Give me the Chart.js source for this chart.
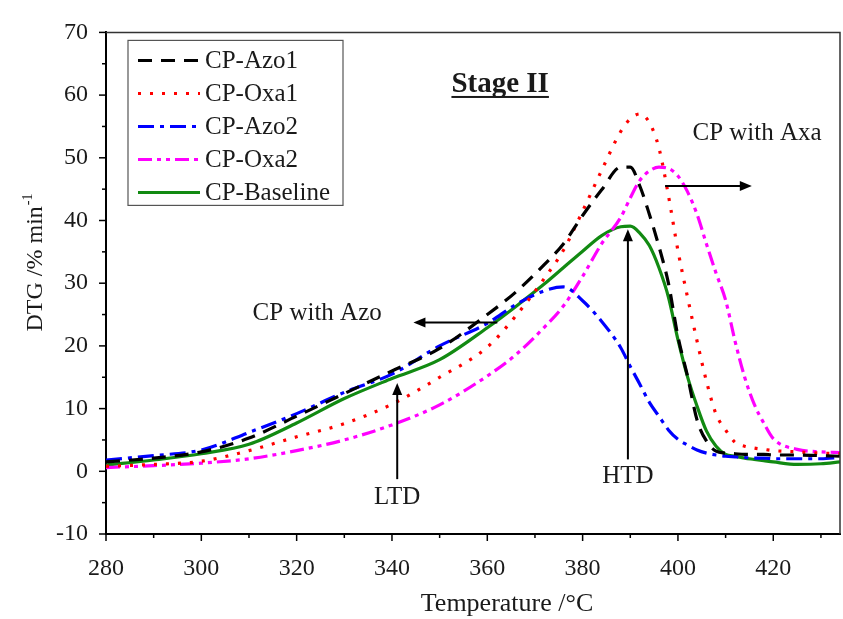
<!DOCTYPE html>
<html>
<head>
<meta charset="utf-8">
<script src="https://cdn.jsdelivr.net/npm/chart.js@4.4.0/dist/chart.umd.min.js"></script>
<style>
  html, body { margin: 0; padding: 0; background: #fff; }
</style>
</head>
<body>
<canvas id="myChart" width="843" height="619"></canvas>
<script>
'use strict';
// ******* Data *******
let temps = [280, 290, 300, 310, 320, 330, 340, 350, 360, 366, 372, 376, 380, 384, 388, 390, 392, 394, 396, 398,
  400, 402, 404, 406, 408, 410, 412, 414, 416, 418, 420, 425, 430, 434];

let azo1 = [1.5, 2.1, 3.1, 5.3, 8.8, 12.4, 16.0, 19.6, 25.0, 28.6, 33.0, 36.3, 40.8, 44.9, 48.5, 48.5, 45.5, 41.0, 35.9, 30.0,
  21.5, 15.2, 8.2, 4.8, 3.2, 2.9, 2.8, 2.7, 2.7, 2.7, 2.6, 2.6, 2.5, 2.4];
let oxa1 = [0.8, 1.1, 1.6, 3.3, 5.5, 7.6, 10.7, 15.0, 19.8, 24.8, 30.8, 35.3, 41.5, 48.0, 54.2, 56.2, 57.0, 55.6, 51.6, 44.0,
  35.2, 27.8, 20.8, 14.3, 9.1, 6.6, 4.6, 4.0, 3.7, 3.5, 3.3, 3.1, 2.9, 2.8];
let azo2 = [1.8, 2.5, 3.4, 6.2, 9.2, 12.6, 15.5, 20.0, 23.6, 26.6, 28.8, 29.4, 27.2, 23.9, 19.7, 16.7, 13.9, 11.0, 8.8, 6.6,
  5.1, 4.2, 3.4, 2.9, 2.6, 2.4, 2.3, 2.2, 2.1, 2.1, 2.0, 2.0, 2.0, 2.2];
let oxa2 = [0.6, 0.9, 1.3, 2.0, 3.3, 5.0, 7.4, 10.6, 15.2, 18.6, 23.0, 26.4, 31.1, 36.3, 40.5, 43.6, 46.4, 47.9, 48.5, 48.3,
  47.1, 44.6, 41.0, 36.2, 31.6, 27.3, 20.7, 15.0, 10.7, 7.7, 5.2, 3.5, 3.1, 3.0];
let baseline = [1.0, 1.8, 2.8, 4.3, 7.7, 11.6, 14.8, 17.8, 22.9, 26.3, 29.9, 32.5, 35.1, 37.6, 39.0, 39.1, 38.0, 36.0, 32.5, 27.8,
  21.0, 15.1, 10.4, 6.4, 4.0, 2.7, 2.4, 2.1, 1.9, 1.7, 1.5, 1.1, 1.2, 1.5];

let seriesNames = ['CP-Azo1', 'CP-Oxa1', 'CP-Azo2', 'CP-Oxa2', 'CP-Baseline'];
let seriesValues = [azo1, oxa1, azo2, oxa2, baseline];
let seriesColors = ['#000000', '#ff0000', '#0000ff', '#ff00ff', '#128a12'];
let seriesDashes = [[14, 9], [3, 9], [16, 6, 4, 6], [14, 5, 4, 5, 4, 5], []];

let xTicks = [280, 300, 320, 340, 360, 380, 400, 420];
let yTicks = [-10, 0, 10, 20, 30, 40, 50, 60, 70];

// ****** Annotations (data coordinates) ******
let noteTexts = ['Stage II', 'CP with Axa', 'CP with Azo', 'LTD', 'HTD'];
let noteX = [362.7, 416.6, 324.3, 341.1, 389.5];
let noteY = [60.5, 52.8, 24.2, -5.2, -1.9];

let arrowFrom = [[397.3, 45.5], [362.1, 23.75], [341.1, -1.25], [389.5, 1.9]];
let arrowTo = [[415.5, 45.5], [344.5, 23.75], [341.1, 14.1], [389.5, 38.6]];

const FONT = '"Liberation Serif", "Times New Roman", serif';
const TEXT = '#1a1a1a';

// ****** Helpers ******
function drawArrow(ctx, x1, y1, x2, y2) {
  let ang = Math.atan2(y2 - y1, x2 - x1);
  ctx.beginPath();
  ctx.moveTo(x1, y1);
  ctx.lineTo(x2 - Math.cos(ang) * 8, y2 - Math.sin(ang) * 8);
  ctx.stroke();
  ctx.beginPath();
  ctx.moveTo(x2, y2);
  ctx.lineTo(x2 - Math.cos(ang) * 12 + Math.sin(ang) * 5, y2 - Math.sin(ang) * 12 - Math.cos(ang) * 5);
  ctx.lineTo(x2 - Math.cos(ang) * 12 - Math.sin(ang) * 5, y2 - Math.sin(ang) * 12 + Math.cos(ang) * 5);
  ctx.closePath();
  ctx.fill();
}

// ****** Decoration plugin ******
let decorPlugin = {
  id: 'decor',
  afterDraw(chart) {
    let ctx = chart.ctx;
    let area = chart.chartArea;
    let xs = chart.scales.x;
    let ys = chart.scales.y;
    ctx.save();

    // frame on top and right
    ctx.strokeStyle = '#333';
    ctx.lineWidth = 1.5;
    ctx.beginPath();
    ctx.moveTo(area.left, area.top);
    ctx.lineTo(area.right, area.top);
    ctx.lineTo(area.right, area.bottom);
    ctx.stroke();

    // tick marks
    ctx.strokeStyle = '#000';
    ctx.lineWidth = 1.5;
    for (let v = -10; v <= 70; v += 5) {
      let py = ys.getPixelForValue(v);
      let len = v % 10 === 0 ? 7 : 4;
      ctx.beginPath();
      ctx.moveTo(area.left, py);
      ctx.lineTo(area.left - len, py);
      ctx.stroke();
    }
    for (let v = 280; v <= 430; v += 10) {
      let px = xs.getPixelForValue(v);
      let len = v % 20 === 0 ? 7 : 4;
      ctx.beginPath();
      ctx.moveTo(px, area.bottom);
      ctx.lineTo(px, area.bottom + len);
      ctx.stroke();
    }

    // axis titles
    ctx.fillStyle = TEXT;
    ctx.font = '26px ' + FONT;
    ctx.textAlign = 'center';
    ctx.textBaseline = 'alphabetic';
    ctx.fillText('Temperature /°C', 507, 611);

    ctx.save();
    ctx.translate(42, 263);
    ctx.rotate(-Math.PI / 2);
    ctx.font = '24px ' + FONT;
    let main = 'DTG /% min';
    let w1 = ctx.measureText(main).width;
    ctx.font = '14px ' + FONT;
    let w2 = ctx.measureText('-1').width;
    ctx.textAlign = 'left';
    ctx.font = '24px ' + FONT;
    ctx.fillText(main, -(w1 + w2) / 2, 0);
    ctx.font = '14px ' + FONT;
    ctx.fillText('-1', -(w1 + w2) / 2 + w1 + 1, -10);
    ctx.restore();

    // annotations
    ctx.textAlign = 'center';
    ctx.textBaseline = 'alphabetic';
    for (let i = 0; i < noteTexts.length; i++) {
      let px = xs.getPixelForValue(noteX[i]);
      let py = ys.getPixelForValue(noteY[i]);
      if (i === 0) {
        ctx.font = 'bold 29px ' + FONT;
        let w = ctx.measureText(noteTexts[i]).width;
        ctx.fillText(noteTexts[i], px, py);
        ctx.fillRect(px - w / 2, py + 4, w, 2);
      } else {
        ctx.font = '25px ' + FONT;
        ctx.fillText(noteTexts[i], px, py);
      }
    }
    ctx.strokeStyle = '#000';
    ctx.fillStyle = '#000';
    ctx.lineWidth = 2;
    for (let i = 0; i < arrowFrom.length; i++) {
      drawArrow(ctx,
        xs.getPixelForValue(arrowFrom[i][0]), ys.getPixelForValue(arrowFrom[i][1]),
        xs.getPixelForValue(arrowTo[i][0]), ys.getPixelForValue(arrowTo[i][1]));
    }

    // legend box
    let lx = area.left + 22;
    let ly = area.top + 8;
    ctx.fillStyle = '#fff';
    ctx.fillRect(lx, ly, 215, 165);
    ctx.strokeStyle = '#555';
    ctx.lineWidth = 1.2;
    ctx.strokeRect(lx, ly, 215, 165);
    ctx.font = '25px ' + FONT;
    ctx.textAlign = 'left';
    ctx.textBaseline = 'middle';
    for (let i = 0; i < seriesNames.length; i++) {
      let rowY = ly + 20 + i * 33;
      ctx.strokeStyle = seriesColors[i];
      ctx.lineWidth = 3;
      ctx.setLineDash(seriesDashes[i]);
      ctx.beginPath();
      ctx.moveTo(lx + 10, rowY);
      ctx.lineTo(lx + 72, rowY);
      ctx.stroke();
      ctx.setLineDash([]);
      ctx.fillStyle = TEXT;
      ctx.fillText(seriesNames[i], lx + 77, rowY + 1);
    }
    ctx.restore();
  }
};

// ****** Chart ******
let datasets = [];
for (let i = 0; i < seriesNames.length; i++) {
  datasets.push({
    label: seriesNames[i],
    data: temps.map((t, j) => ({ x: t, y: seriesValues[i][j] })),
    borderColor: seriesColors[i],
    backgroundColor: seriesColors[i],
    borderDash: seriesDashes[i],
    borderWidth: 3.2,
    pointRadius: 0,
    fill: false,
    cubicInterpolationMode: 'monotone'
  });
}

let ctx = document.getElementById('myChart');

new Chart(ctx, {
  type: 'line',
  data: { datasets: datasets },
  options: {
    responsive: false,
    animation: false,
    layout: { padding: { top: 22, right: 3, left: 0, bottom: 0 } },
    plugins: {
      legend: { display: false },
      tooltip: { enabled: false }
    },
    scales: {
      x: {
        type: 'linear',
        min: 280,
        max: 434,
        afterBuildTicks: (s) => { s.ticks = xTicks.map(v => ({ value: v })); },
        afterFit: (s) => { s.height = 85; },
        grid: { display: false, drawTicks: false },
        border: { display: true, color: '#000', width: 2 },
        ticks: { padding: 20, color: TEXT, font: { family: FONT, size: 24 }, maxRotation: 0, autoSkip: false }
      },
      y: {
        type: 'linear',
        min: -10,
        max: 70,
        afterBuildTicks: (s) => { s.ticks = yTicks.map(v => ({ value: v })); },
        afterFit: (s) => { s.width = 106; },
        grid: { display: false, drawTicks: false },
        border: { display: true, color: '#000', width: 2 },
        ticks: { padding: 18, color: TEXT, font: { family: FONT, size: 24 }, autoSkip: false }
      }
    }
  },
  plugins: [decorPlugin]
});
</script>
</body>
</html>
